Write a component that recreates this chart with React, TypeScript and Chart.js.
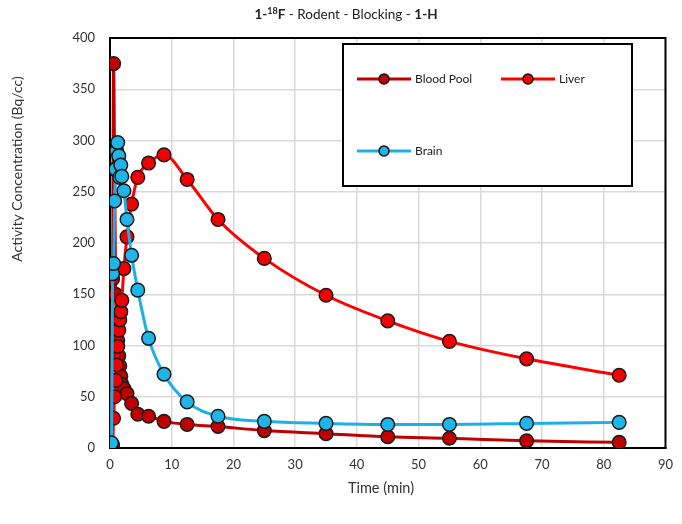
import React, { useEffect, useRef } from "react";
import { Chart, registerables } from "chart.js";

Chart.register(...registerables);

const timeMin = [0.08, 0.25, 0.42, 0.58, 0.75, 0.92, 1.08, 1.25, 1.42, 1.58, 1.75, 1.92, 2.25, 2.75, 3.5, 4.5, 6.25, 8.75, 12.5, 17.5, 25, 35, 45, 55, 67.5, 82.5];
const bloodPool = [0, 29, 165, 375, 272, 150, 125, 105, 90, 80, 70, 62, 58, 53, 43.5, 33, 31, 26, 23, 21, 17, 14, 11, 9.5, 7, 5.5];
const liver = [0, 0, 3, 29, 50, 66, 81, 99, 115, 125, 133, 144, 175, 206, 238, 264, 278, 286, 262, 223, 185, 149, 124, 104, 87, 71];
const brain = [1, 5, 170, 180, 241, 272, 290, 298, 285, 264, 276, 265, 251, 223, 188, 154, 107, 72, 45, 31, 26, 24, 23, 23, 24, 25];

const seriesNames = ["Blood Pool", "Liver", "Brain"];
const seriesLine = ["#C00000", "#FF0000", "#1CB0E6"];
const seriesFill = ["#C00000", "#F00000", "#1FB4EA"];

const xTicks = { min: 0, max: 90, step: 10 };
const yTicks = { min: 0, max: 400, step: 50 };

const FONT = "Lato, 'Open Sans', sans-serif";

const titleSegments: { text: string; bold: boolean; sup?: boolean }[] = [
  { text: "1-", bold: true },
  { text: "18", bold: true, sup: true },
  { text: "F", bold: true },
  { text: " - Rodent - Blocking - ", bold: false },
  { text: "1-H", bold: true },
];

const decorPlugin = {
  id: "decor",
  beforeDatasetsDraw(chart: any) {
    const { ctx, chartArea: a } = chart;
    ctx.save();
    ctx.strokeStyle = "#000";
    ctx.lineWidth = 2;
    ctx.strokeRect(a.left, a.top, a.right - a.left, a.bottom - a.top);
    ctx.restore();
  },
  afterDatasetsDraw(chart: any) {
    const { ctx, chartArea: a } = chart;
    ctx.save();
    const bx = a.left + 233, by = a.top + 6, bw = 289, bh = 142;
    ctx.fillStyle = "#fff";
    ctx.fillRect(bx, by, bw, bh);
    ctx.strokeStyle = "#000";
    ctx.lineWidth = 2;
    ctx.strokeRect(bx, by, bw, bh);
    const entries = [
      { i: 0, x: bx + 14, y: by + 35 },
      { i: 1, x: bx + 158, y: by + 35 },
      { i: 2, x: bx + 14, y: by + 107 },
    ];
    ctx.font = `12px ${FONT}`;
    ctx.textBaseline = "middle";
    ctx.textAlign = "left";
    for (const e of entries) {
      const ds = chart.data.datasets[e.i];
      ctx.strokeStyle = ds.borderColor;
      ctx.lineWidth = 3;
      ctx.beginPath();
      ctx.moveTo(e.x, e.y);
      ctx.lineTo(e.x + 54, e.y);
      ctx.stroke();
      ctx.beginPath();
      ctx.arc(e.x + 27, e.y, 5, 0, Math.PI * 2);
      ctx.fillStyle = ds.pointBackgroundColor;
      ctx.fill();
      ctx.lineWidth = 1.5;
      ctx.strokeStyle = "#111";
      ctx.stroke();
      ctx.fillStyle = "#222";
      ctx.fillText(ds.label, e.x + 58, e.y);
    }
    ctx.restore();
  },
  afterDraw(chart: any) {
    const { ctx } = chart;
    ctx.save();
    ctx.fillStyle = "#222";
    ctx.textBaseline = "alphabetic";
    ctx.textAlign = "left";
    const fontFor = (s: any) => `${s.bold ? "bold " : ""}${s.sup ? 9 : 13.5}px ${FONT}`;
    let total = 0;
    for (const s of titleSegments) {
      ctx.font = fontFor(s);
      total += ctx.measureText(s.text).width;
    }
    let x = 346 - total / 2;
    const baseY = 19;
    for (const s of titleSegments) {
      ctx.font = fontFor(s);
      ctx.fillText(s.text, x, s.sup ? baseY - 5 : baseY);
      x += ctx.measureText(s.text).width;
    }
    ctx.fillStyle = "#333";
    ctx.font = `14.5px ${FONT}`;
    ctx.textAlign = "center";
    ctx.textBaseline = "middle";
    ctx.fillText("Time (min)", 381, 488);
    ctx.translate(17, 169);
    ctx.rotate(-Math.PI / 2);
    ctx.font = `14px ${FONT}`;
    ctx.fillText("Activity Concentration (Bq/cc)", 0, 0);
    ctx.restore();
  },
};

function makeDataset(i: number, values: number[], order: number) {
  return {
    label: seriesNames[i],
    data: timeMin.map((t, k) => ({ x: t, y: values[k] })),
    showLine: true,
    borderColor: seriesLine[i],
    borderWidth: 3,
    pointBackgroundColor: seriesFill[i],
    pointBorderColor: "#1a1a1a",
    pointBorderWidth: 1.5,
    pointRadius: 6.8,
    pointHoverRadius: 6.8,
    cubicInterpolationMode: "monotone" as const,
    order,
  };
}

export default function App() {
  const ref = useRef<HTMLCanvasElement | null>(null);
  useEffect(() => {
    if (!ref.current) return;
    const chart = new Chart(ref.current, {
      type: "scatter",
      data: {
        datasets: [
          makeDataset(0, bloodPool, 3),
          makeDataset(1, liver, 2),
          makeDataset(2, brain, 1),
        ],
      },
      options: {
        responsive: false,
        animation: false,
        layout: { padding: { left: 0, right: 8, top: 38, bottom: 0 } },
        plugins: {
          legend: { display: false },
          title: { display: false },
          tooltip: { enabled: false },
        },
        scales: {
          x: {
            type: "linear",
            min: xTicks.min,
            max: xTicks.max,
            afterFit: (s: any) => {
              s.height = 76;
            },
            ticks: {
              stepSize: xTicks.step,
              padding: 9,
              color: "#333",
              font: { family: FONT, size: 13 },
            },
            grid: { color: "#D9D9D9", lineWidth: 1.5, drawTicks: false },
            border: { color: "#000", width: 2 },
          },
          y: {
            type: "linear",
            min: yTicks.min,
            max: yTicks.max,
            afterFit: (s: any) => {
              s.width = 110;
            },
            ticks: {
              stepSize: yTicks.step,
              padding: 15,
              color: "#333",
              font: { family: FONT, size: 13 },
            },
            grid: { color: "#D9D9D9", lineWidth: 1.5, drawTicks: false },
            border: { color: "#000", width: 2 },
          },
        },
      },
      plugins: [decorPlugin],
    });
    return () => chart.destroy();
  }, []);
  return (
    <div style={{ position: "absolute", left: 0, top: 0, width: 682, height: 524, background: "#fff" }}>
      <canvas ref={ref} width={682} height={524} style={{ width: 682, height: 524 }} />
    </div>
  );
}
